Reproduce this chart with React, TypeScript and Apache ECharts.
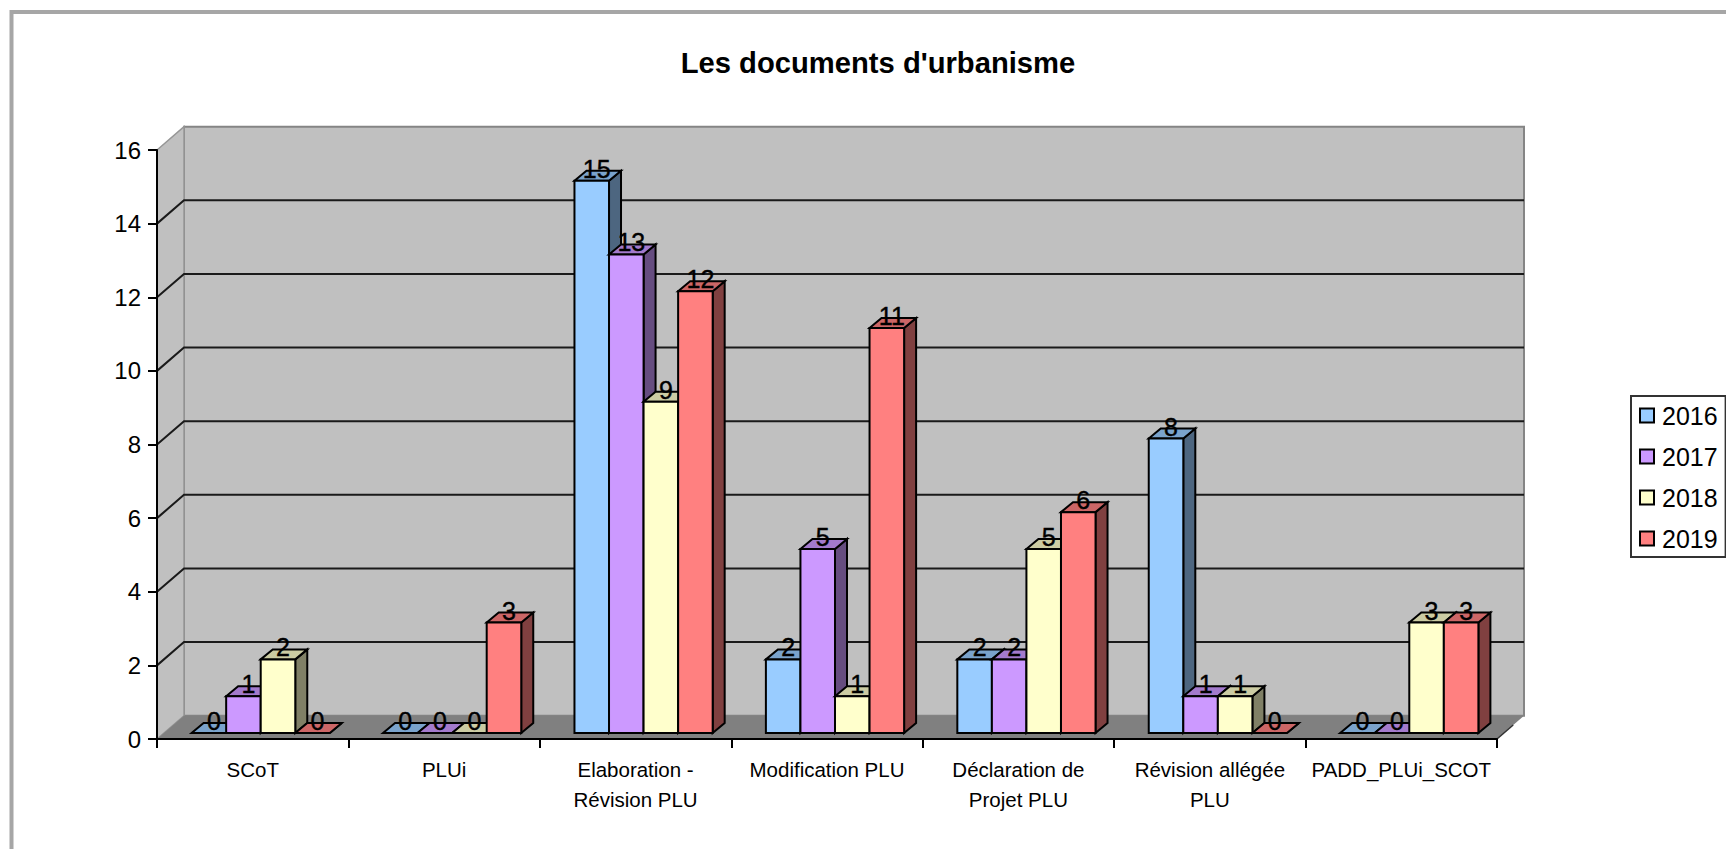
import React, { useEffect, useRef } from "react";
import * as echarts from "echarts";

const titleText = "Les documents d'urbanisme";
const categories = [
  "SCoT",
  "PLUi",
  "Elaboration -\nRévision PLU",
  "Modification PLU",
  "Déclaration de\nProjet PLU",
  "Révision allégée\nPLU",
  "PADD_PLUi_SCOT",
];
const years = ["2016", "2017", "2018", "2019"];
const values2016 = [0, 0, 15, 2, 2, 8, 0];
const values2017 = [1, 0, 13, 5, 2, 1, 0];
const values2018 = [2, 0, 9, 1, 5, 1, 3];
const values2019 = [0, 3, 12, 11, 6, 0, 3];
const yTicks = [0, 2, 4, 6, 8, 10, 12, 14, 16];

const seriesValues = [values2016, values2017, values2018, values2019];
const frontColors = ["#99CCFF", "#CC99FF", "#FFFFCC", "#FF8080"];
const topColors = ["#7AA3CC", "#A37ACC", "#CCCCA3", "#CC6666"];
const sideColors = ["#4D6680", "#664D80", "#808066", "#804040"];

const FONT = '"Liberation Sans", Arial, sans-serif';
const WALL_DX = 27;
const WALL_DY = 23.3;
const BAR_SHIFT_X = 8;
const BAR_LIFT = 6;
const BAR_DX = 12;
const BAR_DY = 10;
const BAR_FRACTION = 0.1805;

function renderWall(params: any, api: any) {
  const cs = params.coordSys;
  const tick = api.value(0);
  const y = api.coord([0, tick])[1];
  const left = cs.x;
  const right = cs.x + cs.width;
  const children: any[] = [];
  if (tick === 0) {
    const top = cs.y;
    const bottom = cs.y + cs.height;
    children.push({
      type: "rect",
      shape: { x: left + WALL_DX, y: top - WALL_DY, width: cs.width, height: cs.height },
      style: { fill: "#C0C0C0", stroke: "#858585", lineWidth: 2 },
    });
    children.push({
      type: "polygon",
      shape: {
        points: [
          [left, bottom],
          [left + WALL_DX, bottom - WALL_DY],
          [left + WALL_DX, top - WALL_DY],
          [left, top],
        ],
      },
      style: { fill: "#C0C0C0", stroke: "#969696", lineWidth: 1.5 },
    });
    children.push({
      type: "polygon",
      shape: {
        points: [
          [left, bottom],
          [right, bottom],
          [right + WALL_DX, bottom - WALL_DY],
          [left + WALL_DX, bottom - WALL_DY],
        ],
      },
      style: { fill: "#808080" },
    });
    children.push({
      type: "line",
      shape: { x1: right, y1: bottom, x2: right + WALL_DX * 0.6, y2: bottom - WALL_DY * 0.6 },
      style: { stroke: "#333333", lineWidth: 1.5 },
    });
  } else if (tick !== 16) {
    children.push({
      type: "polyline",
      shape: {
        points: [
          [left, y],
          [left + WALL_DX, y - WALL_DY],
          [right + WALL_DX, y - WALL_DY],
        ],
      },
      style: { fill: "none", stroke: "#1A1A1A", lineWidth: 2 },
    });
  }
  return { type: "group", children };
}

function makeBarRenderer(index: number) {
  return (_params: any, api: any) => {
    const cat = api.value(0);
    const val = api.value(1);
    const band = api.size([1, 0])[0];
    const bw = band * BAR_FRACTION;
    const base = api.coord([cat, 0]);
    const head = api.coord([cat, val]);
    const x0 = base[0] - 2 * bw + BAR_SHIFT_X + index * bw;
    const x1 = x0 + bw;
    const yb = base[1] - BAR_LIFT;
    const yt = head[1] - BAR_LIFT;
    const line = { stroke: "#000000", lineWidth: 2, lineJoin: "miter" };
    const children: any[] = [];
    children.push({
      type: "polygon",
      shape: {
        points: [
          [x1, yb],
          [x1 + BAR_DX, yb - BAR_DY],
          [x1 + BAR_DX, yt - BAR_DY],
          [x1, yt],
        ],
      },
      style: { fill: sideColors[index], ...line },
    });
    children.push({
      type: "polygon",
      shape: {
        points: [
          [x0, yt],
          [x0 + BAR_DX, yt - BAR_DY],
          [x1 + BAR_DX, yt - BAR_DY],
          [x1, yt],
        ],
      },
      style: { fill: topColors[index], ...line },
    });
    if (val > 0) {
      children.push({
        type: "rect",
        shape: { x: x0, y: yt, width: bw, height: yb - yt },
        style: { fill: frontColors[index], ...line },
      });
    }
    children.push({
      type: "text",
      z2: 100,
      style: {
        x: x0 + bw / 2 + 5,
        y: yt - 12,
        text: String(val),
        fill: "#000000",
        stroke: "#000000",
        lineWidth: 0.4,
        font: `25px ${FONT}`,
        align: "center",
        verticalAlign: "middle",
      },
    });
    return { type: "group", children };
  };
}

export default function App() {
  const ref = useRef<HTMLDivElement>(null);

  useEffect(() => {
    document.body.style.margin = "0";
    const chart = echarts.init(ref.current!, null, { renderer: "svg" });
    chart.setOption({
      animation: false,
      backgroundColor: "#FFFFFF",
      textStyle: { fontFamily: FONT },
      title: {
        text: titleText,
        left: 873,
        top: 43,
        textAlign: "center",
        textStyle: { fontFamily: FONT, fontSize: 29.2, fontWeight: "bold", color: "#000000" },
      },
      graphic: [
        {
          type: "rect",
          silent: true,
          shape: { x: 11.5, y: 12, width: 2400, height: 1600 },
          style: { fill: "none", stroke: "#A6A6A6", lineWidth: 4 },
        },
      ],
      legend: {
        data: years,
        orient: "vertical",
        left: 1631,
        top: 396,
        padding: [7, 8, 6, 8],
        borderColor: "#333333",
        borderWidth: 2,
        backgroundColor: "#FFFFFF",
        icon: "rect",
        itemWidth: 14,
        itemHeight: 14,
        itemGap: 16,
        itemStyle: { borderColor: "#000000", borderWidth: 2 },
        textStyle: {
          fontFamily: FONT,
          fontSize: 25,
          lineHeight: 24,
          color: "#000000",
          padding: [0, 0, 0, 3],
        },
        selectedMode: false,
      },
      grid: { left: 157, top: 150, width: 1340, height: 589, containLabel: false },
      xAxis: {
        type: "category",
        data: categories,
        z: 5,
        boundaryGap: true,
        axisLine: { show: true, lineStyle: { color: "#000000", width: 2 } },
        axisTick: { show: true, alignWithLabel: false, length: 9, lineStyle: { color: "#000000", width: 2 } },
        axisLabel: {
          interval: 0,
          margin: 15,
          color: "#000000",
          fontFamily: FONT,
          fontSize: 20.5,
          lineHeight: 30,
        },
        splitLine: { show: false },
      },
      yAxis: {
        type: "value",
        min: 0,
        max: 16,
        interval: 2,
        z: 5,
        axisLine: { show: true, lineStyle: { color: "#000000", width: 2 } },
        axisTick: { show: true, length: 9, lineStyle: { color: "#000000", width: 2 } },
        axisLabel: { margin: 16, color: "#000000", fontFamily: FONT, fontSize: 24 },
        splitLine: { show: false },
      },
      series: [
        {
          type: "custom",
          name: "walls",
          silent: true,
          renderItem: renderWall,
          encode: { x: null, y: 0 },
          data: yTicks.map((t) => [t]),
        },
        ...years.map((year, i) => ({
          type: "custom",
          name: year,
          silent: true,
          itemStyle: { color: frontColors[i] },
          renderItem: makeBarRenderer(i),
          encode: { x: 0, y: 1 },
          data: seriesValues[i].map((v, c) => [c, v]),
        })),
      ],
    });
    return () => chart.dispose();
  }, []);

  return <div ref={ref} style={{ position: "absolute", left: 0, top: 0, width: 1726, height: 849 }} />;
}
